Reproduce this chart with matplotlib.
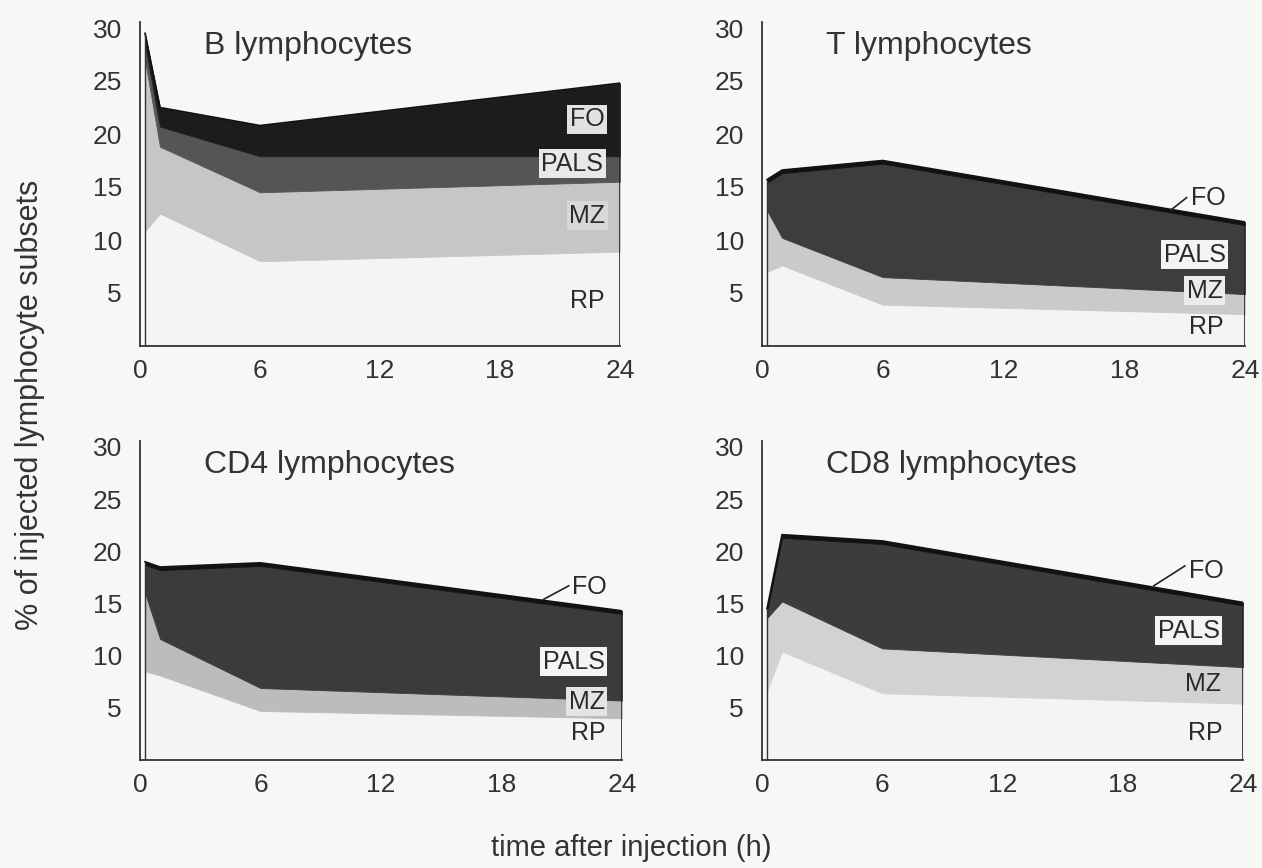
import matplotlib
matplotlib.use("Agg")
import matplotlib.pyplot as plt

# ---------------- data ----------------
times = [0.25, 1, 6, 24]
layer_names = ["RP", "MZ", "PALS", "FO"]
x_ticks = [0, 6, 12, 18, 24]
y_ticks = [5, 10, 15, 20, 25, 30]

b_rp = [10.8, 12.5, 8.0, 8.9]
b_mz = [16.2, 6.3, 6.5, 6.6]
b_pals = [1.5, 1.9, 3.4, 2.4]
b_fo = [1.0, 1.8, 2.9, 6.9]

t_rp = [7.0, 7.6, 3.9, 3.0]
t_mz = [5.8, 2.6, 2.6, 1.9]
t_pals = [2.6, 6.1, 10.7, 6.5]
t_fo = [0.3, 0.3, 0.3, 0.3]

cd4_rp = [8.5, 8.1, 4.7, 4.0]
cd4_mz = [7.5, 3.5, 2.2, 1.7]
cd4_pals = [2.7, 6.6, 11.7, 8.3]
cd4_fo = [0.3, 0.3, 0.3, 0.3]

cd8_rp = [6.6, 10.4, 6.4, 5.4]
cd8_mz = [7.0, 4.8, 4.3, 3.5]
cd8_pals = [0.6, 6.1, 10.0, 5.9]
cd8_fo = [0.3, 0.3, 0.3, 0.3]

titles = ["B lymphocytes", "T lymphocytes", "CD4 lymphocytes", "CD8 lymphocytes"]

# ---------------- style ----------------
FONT = ["Liberation Sans", "DejaVu Sans"]
plt.rcParams["font.family"] = FONT
TXT = "#333333"
BG = "#f7f7f5"

fig = plt.figure(figsize=(12.62, 8.68), dpi=100, facecolor=BG)
W, H = 1262, 868

def ax_rect(x0, x24, y0, y30):
    return [x0 / W, 1 - y0 / H, (x24 - x0) / W, (y0 - y30) / H]

panels = [
    dict(rect=ax_rect(140, 620, 346, 28), data=[b_rp, b_mz, b_pals, b_fo],
         colors=["#f4f4f2", "#c6c6c6", "#555555", "#1c1c1c"],
         labels={"FO": (22.35, 21.4, "#e2e2e2"), "PALS": (21.6, 17.2, "#e8e8e8"),
                 "MZ": (22.35, 12.3, "#d8d8d8"), "RP": (22.35, 4.2, None)},
         leader=None),
    dict(rect=ax_rect(762, 1245, 346, 28), data=[t_rp, t_mz, t_pals, t_fo],
         colors=["#f4f4f2", "#cacaca", "#3d3d3d", "#111111"],
         labels={"PALS": (21.5, 8.6, "#f4f4f2"), "MZ": (22.0, 5.2, "#ececec"),
                 "RP": (22.1, 1.8, None)},
         leader=((20.3, 12.8), (21.1, 14.0), (21.3, 14.0))),
    dict(rect=ax_rect(140, 622, 760, 447), data=[cd4_rp, cd4_mz, cd4_pals, cd4_fo],
         colors=["#f4f4f2", "#bcbcbc", "#3b3b3b", "#111111"],
         labels={"PALS": (21.6, 9.4, "#f4f4f2"), "MZ": (22.25, 5.6, "#e4e4e4"),
                 "RP": (22.3, 2.6, None)},
         leader=((20.1, 15.4), (21.35, 16.7), (21.5, 16.6))),
    dict(rect=ax_rect(762, 1243, 760, 447), data=[cd8_rp, cd8_mz, cd8_pals, cd8_fo],
         colors=["#f4f4f2", "#d2d2d2", "#3c3c3c", "#111111"],
         labels={"PALS": (21.3, 12.4, "#f4f4f2"), "MZ": (22.0, 7.3, None),
                 "RP": (22.1, 2.6, None)},
         leader=((19.55, 16.7), (21.1, 18.6), (21.3, 18.1))),
]

for p, title in zip(panels, titles):
    ax = fig.add_axes(p["rect"])
    ax.set_facecolor("none")
    polys = ax.stackplot(times, *p["data"], colors=p["colors"], linewidth=0.6)
    for poly, c in zip(polys, p["colors"]):
        poly.set_edgecolor(c)
    total = [sum(v) for v in zip(*p["data"])]
    # outline of the stacked block
    ax.plot(times, total, color="#111111", lw=1.2, solid_joinstyle="round")
    ax.plot([times[-1], times[-1]], [0, total[-1]], color="#222222", lw=1.2)
    ax.plot([times[0], times[0]], [0, total[0]], color="#333333", lw=1.0)

    ax.set_xlim(0, 24)
    ax.set_ylim(0, 30)
    ax.set_xticks(x_ticks)
    ax.set_xticklabels([str(v) for v in x_ticks])
    ax.set_yticks(y_ticks)
    ax.set_yticklabels([str(v) for v in y_ticks])
    ax.tick_params(length=0, labelsize=19, colors=TXT, pad=9)
    ax.tick_params(axis="y", pad=13)
    for s in ["top", "right"]:
        ax.spines[s].set_visible(False)
    for s in ["left", "bottom"]:
        ax.spines[s].set_color("#333333")
        ax.spines[s].set_linewidth(1.3)
    ax.spines["left"].set_bounds(0, 30.6)

    ax.text(3.2, 28.3, title, fontsize=23, color=TXT, va="center", ha="left")

    for name, (x, y, bg) in p["labels"].items():
        kw = dict(fontsize=18, color="#2a2a2a", ha="center", va="center")
        if bg is not None:
            kw["bbox"] = dict(boxstyle="square,pad=0.1", fc=bg, ec="none")
        ax.text(x, y, name, **kw)

    if p["leader"] is not None:
        (x1, y1), (x2, y2), (xt, yt) = p["leader"]
        ax.plot([x1, x2], [y1, y2], color="#222222", lw=1.2)
        ax.text(xt, yt, "FO", fontsize=18, color="#2a2a2a", ha="left", va="center")

fig.text(0.5, 1 - 848 / H, "time after injection (h)", fontsize=21, color=TXT,
         ha="center", va="center")
fig.text(30 / W, 1 - 405 / H, "% of injected lymphocyte subsets", fontsize=22,
         color=TXT, ha="center", va="center", rotation=90)

fig.savefig("out.png", dpi=100, facecolor=BG)
